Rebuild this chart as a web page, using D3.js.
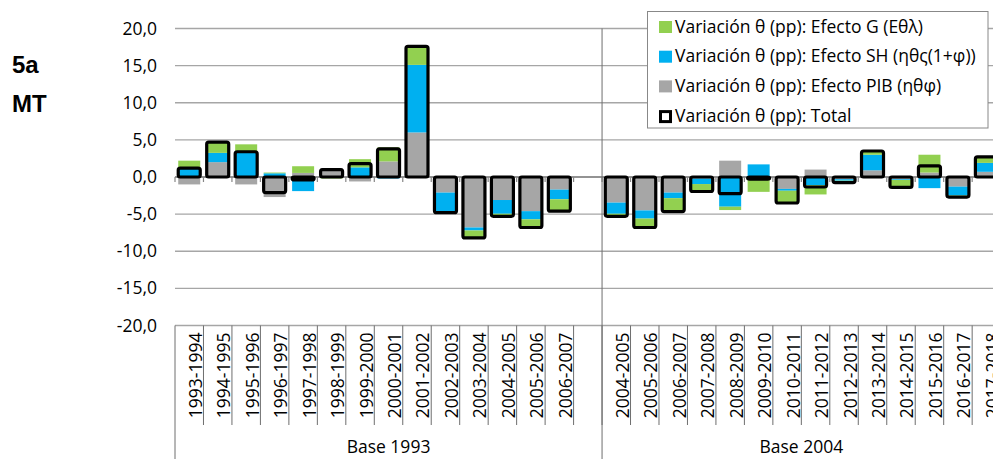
<!DOCTYPE html>
<html>
  <head>
    <meta charset="utf-8">
    <script src="https://cdn.jsdelivr.net/npm/d3@7/dist/d3.min.js"></script>
    <style>
      body { margin: 0; background: #fff; }
      svg { display: block; overflow: hidden; }
      text { font-family: "Open Sans", sans-serif; fill: #000; }
    </style>
  </head>
  <body>
    <script>

      // categories per base year
      var base1993 = ["1993-1994", "1994-1995", "1995-1996", "1996-1997", "1997-1998",
                      "1998-1999", "1999-2000", "2000-2001", "2001-2002", "2002-2003",
                      "2003-2004", "2004-2005", "2005-2006", "2006-2007"];
      var base2004 = ["2004-2005", "2005-2006", "2006-2007", "2007-2008", "2008-2009",
                      "2009-2010", "2010-2011", "2011-2012", "2012-2013", "2013-2014",
                      "2014-2015", "2015-2016", "2016-2017", "2017-2018"];
      var groupNames = ["Base 1993", "Base 2004"];

      // series (pp), first base 1993 then base 2004
      var efectoPIB = [-1.0, 2.0, -1.0, -2.7, 0.55, 1.2, -0.6, 2.1, 6.0, -2.1, -6.8, -3.1, -4.6, -1.7,
                       -3.45, -4.5, -2.1, -0.2, 2.2, 0.0, -1.6, 1.0, -0.3, 0.9, -0.3, 0.6, -1.3, 0.7];
      var efectoSH  = [1.1, 1.25, 3.3, 0.5, -1.9, -0.1, 1.3, -0.2, 9.1, -2.6, -0.4, -1.85, -1.1, -1.3,
                       -1.5, -1.1, -0.75, -0.75, -4.0, 1.7, -0.25, -1.1, -0.2, 2.1, -0.1, -1.5, -1.2, 1.2];
      var efectoG   = [1.1, 1.5, 1.1, 0.1, 0.9, -0.1, 1.1, 1.9, 2.5, -0.1, -1.0, -0.35, -1.1, -1.6,
                       -0.3, -1.15, -1.8, -1.0, -0.45, -2.0, -1.65, -1.25, -0.25, 0.5, -1.0, 2.4, -0.2, 0.8];
      var total     = [1.2, 4.7, 3.4, -2.1, -0.4, 1.0, 1.8, 3.8, 17.6, -4.8, -8.2, -5.3, -6.8, -4.6,
                       -5.3, -6.8, -4.65, -1.95, -2.25, -0.3, -3.5, -1.35, -0.75, 3.5, -1.4, 1.5, -2.7, 2.7];

      var yTicks = [20, 15, 10, 5, 0, -5, -10, -15, -20];

      var legendLabels = ["Variación θ (pp): Efecto G (Εθλ)",
                          "Variación θ (pp): Efecto SH (ηθς(1+φ))",
                          "Variación θ (pp): Efecto PIB (ηθφ)",
                          "Variación θ (pp): Total"];

      var colors = {pib: "#a6a6a6", sh: "#00b0f0", g: "#92d050"};

      var width = 993, height = 459;
      var plotLeft = 175, step = 28.47;

      // keys for the band scale, one blank slot closes the base 1993 group
      var keys1993 = base1993.map(function(d) { return "a" + d; });
      var keys2004 = base2004.map(function(d) { return "b" + d; });
      var domain = keys1993.concat(["blank"], keys2004);
      var barKeys = keys1993.concat(keys2004);
      var barLabels = base1993.concat(base2004);

      var rows = barKeys.map(function(k, i) {
        return {key: k, pib: efectoPIB[i], sh: efectoSH[i], g: efectoG[i], total: total[i]};
      });

      var svg = d3.select("body").append("svg")
          .attr("width", width)
          .attr("height", height);

      var pad = 6.47 / step;
      var x = d3.scaleBand()
          .domain(domain)
          .range([plotLeft, plotLeft + domain.length * step])
          .paddingInner(pad)
          .paddingOuter(pad / 2);
      var off = step * pad / 2;

      var y = d3.scaleLinear()
          .domain([-20, 20])
          .range([325.5, 28.5]);

      var fmt = d3.formatLocale({decimal: ",", thousands: ".", grouping: [3], currency: ["", ""], minus: "-"}).format(".1f");

      // gridlines
      svg.append("g")
        .selectAll("line")
        .data(yTicks.filter(function(d) { return d !== -20; }))
        .enter()
        .append("line")
        .attr("x1", plotLeft)
        .attr("x2", width)
        .attr("y1", function(d) { return y(d); })
        .attr("y2", function(d) { return y(d); })
        .attr("stroke", "#a6a6a6")
        .attr("stroke-width", 1.3);

      // y axis labels
      var yAxis = svg.append("g")
          .attr("transform", "translate(" + (plotLeft - 18) + ",0)")
          .call(d3.axisLeft(y).tickValues(yTicks).tickSize(0).tickPadding(0).tickFormat(fmt));
      yAxis.select(".domain").remove();
      yAxis.selectAll("text")
          .style("font-size", "17.5px")
          .style("font-family", "'Open Sans', sans-serif")
          .attr("fill", "#000");

      // zero line with small ticks
      svg.append("line")
        .attr("x1", plotLeft)
        .attr("x2", width)
        .attr("y1", y(0))
        .attr("y2", y(0))
        .attr("stroke", "#868686")
        .attr("stroke-width", 1.3);

      svg.append("g")
        .selectAll("line")
        .data(domain)
        .enter()
        .append("line")
        .attr("x1", function(d) { return x(d) - off; })
        .attr("x2", function(d) { return x(d) - off; })
        .attr("y1", y(0))
        .attr("y2", y(0) + 5)
        .attr("stroke", "#868686")
        .attr("stroke-width", 1.2);

      // stacked effects
      var stack = d3.stack()
          .keys(["pib", "sh", "g"])
          .offset(d3.stackOffsetDiverging);
      var series = stack(rows);

      svg.append("g")
        .selectAll("g")
        .data(series)
        .enter()
        .append("g")
        .attr("fill", function(s) { return colors[s.key]; })
        .selectAll("rect")
        .data(function(s) { return s; })
        .enter()
        .append("rect")
        .attr("x", function(d) { return x(d.data.key); })
        .attr("width", x.bandwidth())
        .attr("y", function(d) { return y(Math.max(d[0], d[1])); })
        .attr("height", function(d) { return Math.abs(y(d[0]) - y(d[1])); });

      // total outline boxes
      svg.append("g")
        .selectAll("rect")
        .data(rows)
        .enter()
        .append("rect")
        .attr("x", function(d) { return x(d.key); })
        .attr("width", x.bandwidth())
        .attr("y", function(d) { return y(Math.max(0, d.total)); })
        .attr("height", function(d) { return Math.abs(y(d.total) - y(0)); })
        .attr("rx", 2)
        .attr("fill", "none")
        .attr("stroke", "#000")
        .attr("stroke-width", 3.2);

      // category label area
      var labelTop = y(-20);
      svg.append("line")
        .attr("x1", plotLeft).attr("x2", width)
        .attr("y1", labelTop).attr("y2", labelTop)
        .attr("stroke", "#a6a6a6")
        .attr("stroke-width", 1.3);

      svg.append("g")
        .selectAll("line")
        .data(domain.slice(1))
        .enter()
        .append("line")
        .attr("x1", function(d) { return x(d) - off; })
        .attr("x2", function(d) { return x(d) - off; })
        .attr("y1", labelTop)
        .attr("y2", 425)
        .attr("stroke", "#6e6e6e")
        .attr("stroke-width", 1);

      // group borders
      var groupEdges = [plotLeft, x(keys2004[0]) - off, plotLeft + domain.length * step];
      svg.append("line")
        .attr("x1", groupEdges[0]).attr("x2", groupEdges[0])
        .attr("y1", labelTop).attr("y2", height)
        .attr("stroke", "#6e6e6e");
      svg.append("line")
        .attr("x1", groupEdges[1]).attr("x2", groupEdges[1])
        .attr("y1", y(20)).attr("y2", height)
        .attr("stroke", "#6e6e6e");

      svg.append("g")
        .selectAll("text")
        .data(barKeys)
        .enter()
        .append("text")
        .attr("transform", function(d) {
          return "translate(" + (x(d) + x.bandwidth() / 2 + 12.5) + "," + (labelTop + 7) + ") rotate(-90)";
        })
        .attr("text-anchor", "end")
        .style("font-size", "17.5px")
        .text(function(d, i) { return barLabels[i]; });

      svg.append("g")
        .selectAll("text")
        .data(groupNames)
        .enter()
        .append("text")
        .attr("x", function(d, i) { return (groupEdges[i] + groupEdges[i + 1]) / 2; })
        .attr("y", 453)
        .attr("text-anchor", "middle")
        .style("font-size", "17.5px")
        .text(function(d) { return d; });

      // panel title
      svg.append("text")
        .attr("x", 12).attr("y", 73)
        .style("font-family", "'Liberation Sans', Arial, sans-serif")
        .style("font-weight", "700")
        .style("font-size", "24px")
        .text("5a");
      svg.append("text")
        .attr("x", 12).attr("y", 112)
        .style("font-family", "'Liberation Sans', Arial, sans-serif")
        .style("font-weight", "700")
        .style("font-size", "24px")
        .text("MT");

      // legend
      var legend = svg.append("g");
      legend.append("rect")
        .attr("x", 647.5).attr("y", 11.5)
        .attr("width", 340.5).attr("height", 116.5)
        .attr("fill", "#fff")
        .attr("stroke", "#888")
        .attr("stroke-width", 1);

      var legendFill = [colors.g, colors.sh, colors.pib, "none"];
      var item = legend.selectAll(".item")
        .data(legendLabels)
        .enter()
        .append("g")
        .attr("class", "item")
        .attr("transform", function(d, i) { return "translate(0," + (32.5 + i * 29.7) + ")"; });

      item.append("rect")
        .attr("x", function(d, i) { return i === 3 ? 660.5 : 659; })
        .attr("y", function(d, i) { return i === 3 ? -10 : -11.5; })
        .attr("width", function(d, i) { return i === 3 ? 10 : 13; })
        .attr("height", function(d, i) { return i === 3 ? 10 : 12; })
        .attr("fill", function(d, i) { return legendFill[i]; })
        .attr("stroke", function(d, i) { return i === 3 ? "#000" : "none"; })
        .attr("stroke-width", 3);

      item.append("text")
        .attr("x", 675)
        .attr("y", 0)
        .style("font-size", "17.5px")
        .text(function(d) { return d; });

    </script>
  </body>
</html>
